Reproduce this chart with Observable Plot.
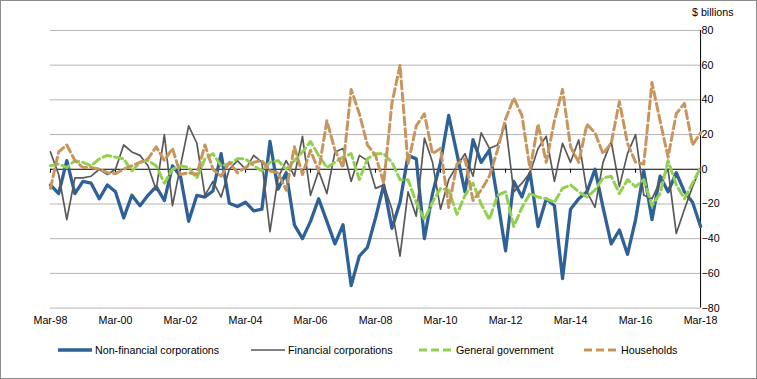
<!DOCTYPE html>
<html>
<head>
<meta charset="utf-8">
<script src="https://cdn.jsdelivr.net/npm/d3@7"></script>
<script src="https://cdn.jsdelivr.net/npm/@observablehq/plot@0.6"></script>
<style>
  html, body { margin: 0; padding: 0; background: #fff; }
  #wrap { position: relative; width: 757px; height: 379px; box-sizing: border-box; border: 1px solid #8c8c8c; overflow: hidden; font-family: "Liberation Sans", Arial, sans-serif; }
  #chart { position: absolute; left: -1px; top: -1px; }
  #unit { position: absolute; left: 691px; top: 5px; font-size: 10.7px; color: #000; }
  .leg { position: absolute; top: 343px; display: flex; align-items: center; font-size: 10.7px; color: #000; }
  .leg svg { margin-right: 3px; }
</style>
</head>
<body>
<div id="wrap">
  <div id="chart"></div>
  <div id="unit">$ billions</div>
  <div id="legend"></div>
</div>
<script>
// Quarterly categories, Mar-98 .. Mar-18
const startYear = 1998, nQuarters = 81;
const quarters = d3.range(nQuarters).map(i => new Date(Date.UTC(startYear, 2 + 3 * i, 1)));
const tickLabels = ["Mar-98","Mar-00","Mar-02","Mar-04","Mar-06","Mar-08","Mar-10","Mar-12","Mar-14","Mar-16","Mar-18"];
const yTicks = [-80,-60,-40,-20,0,20,40,60,80];

const seriesNames = ["Non-financial corporations","Financial corporations","General government","Households"];

const nonFinancial = [-9,-14,5,-14,-7,-8,-17,-9,-13,-28,-15,-21,-15,-10,
  -18,2,-4,-30,-15,-16,-12.5,9,-19.6,-21.5,-19,-24,-23,16,-11.5,-2,-32,
  -40,-30,-17,-30,-43,-32,-67,-50,-45,-28,-9,-34,-19,8,6,-40,
  -14,4,31,9,-13,17,4,11,-17,-47,-7,-16,-2,-33,-17,-21,-63,
  -23,-17,-13,0,-22,-43,-35,-49,-29,-1,-29,-4,-13,-2,-13,-19,-33];

const financial = [10,-3,-29,-5,-5,-4,0,-3,0,14,10,8,2,-12,
  20,-21,2,25,15,-15,-7,-16,0,5,0,8,4,-36,-5,5,-4,
  19,-15,-1,-14,10,12,-7,8,5,-11,-9,-23,-50,-13,-27,18,
  4,-23,-6,2,9,-4,21,12,14,26,-13,-8,-2,12,19,-7,15,
  4,17,-13,-22,4,16,-10,9,20,-15,-17,-7,0,-37,-23,-10,1];

const government = [2,3,1,5,4,2,6,8,7,6,-1,4,5,2,
  -8,0,2,1,-5,6,9,2,3,6,6,2,-1,4,5,0,5,
  10,16,8,1,4,7,9,-6,6,9,9,4,-6,-6,-19,-29,
  -19,-11,-12,-26,-15,-8,-20,-29,-15,-13,-33,-22,-14,-16,-17,-19,-11,
  -9,-13,-16,-12,-5,-4,-14,-6,-10,-6,-21,-14,5,-9,-17,-8,1];

const households = [-11,10,14,5,1,1,0,-2,-2.5,0,2,4,6,13,
  5,12,-3,-2,-3,14,0,-4,4,-2,1,4,5,-1,-2,-12,13,
  -3,11,-1,28,11,1,46,32,14,8,-8,38,60,3,25,32,
  9,12,-22,3,6,-18,-12,-4,11,29,41,31,0,26,4,28,46,
  13,4,26,21,9,15,39,15,4,3,50,28,7,32,38,14,21];

const colors = ["#2d6198", "#595959", "#92d050", "#c8955d"];
const widths = [3.3, 1.7, 3, 3];
const dashes = [null, null, "8,4", "8,4"];

const allSeries = [nonFinancial, financial, government, households];
const table = allSeries.flatMap((vals, s) => vals.map((v, i) => ({date: quarters[i], value: v, series: seriesNames[s]})));

const tickDates = quarters.filter((d, i) => i % 8 === 0);
const fmt = d => tickLabels[tickDates.findIndex(t => +t === +d)];

const W = 757, H = 336;
const chart = Plot.plot({
  width: W,
  height: H,
  marginLeft: 50,
  marginRight: 56,
  marginTop: 30,
  marginBottom: 28,
  style: {fontFamily: "'Liberation Sans', Arial, sans-serif", fontSize: "10.7px", background: "transparent"},
  x: {type: "utc", domain: [quarters[0], quarters[nQuarters - 1]]},
  y: {domain: [-80, 80]},
  marks: [
    Plot.ruleY(yTicks.filter(v => v !== 0), {stroke: "#b4b4b4", strokeWidth: 1}),
    Plot.axisX(tickDates, {tickSize: 0, tickPadding: 8, tickFormat: fmt, fill: "#000"}),
    Plot.axisY(yTicks, {anchor: "right", tickSize: 0, tickPadding: 1, fill: "#000", label: null}),
    Plot.ruleX([quarters[nQuarters - 1]], {stroke: "#000", strokeWidth: 1}),
    Plot.ruleY([0], {stroke: "#000", strokeWidth: 1}),
    Plot.ruleX(tickDates, {y1: 0, y2: 0, insetBottom: -4, stroke: "#000", strokeWidth: 1}),
    ...seriesNames.map((name, s) => Plot.line(table.filter(d => d.series === name), {
      x: "date", y: "value", stroke: colors[s], strokeWidth: widths[s],
      strokeDasharray: dashes[s], strokeLinejoin: "round"
    }))
  ]
});
document.getElementById("chart").appendChild(chart);

// Legend
const legendLeft = [57, 250, 418, 583];
const legend = document.getElementById("legend");
seriesNames.forEach((name, s) => {
  const item = document.createElement("div");
  item.className = "leg";
  item.style.left = legendLeft[s] + "px";
  const dash = dashes[s] ? `stroke-dasharray="8,4"` : "";
  item.innerHTML = `<svg width="34" height="8"><line x1="0" y1="4" x2="34" y2="4" stroke="${colors[s]}" stroke-width="${widths[s]}" ${dash}/></svg><span>${name}</span>`;
  legend.appendChild(item);
});
</script>
</body>
</html>
